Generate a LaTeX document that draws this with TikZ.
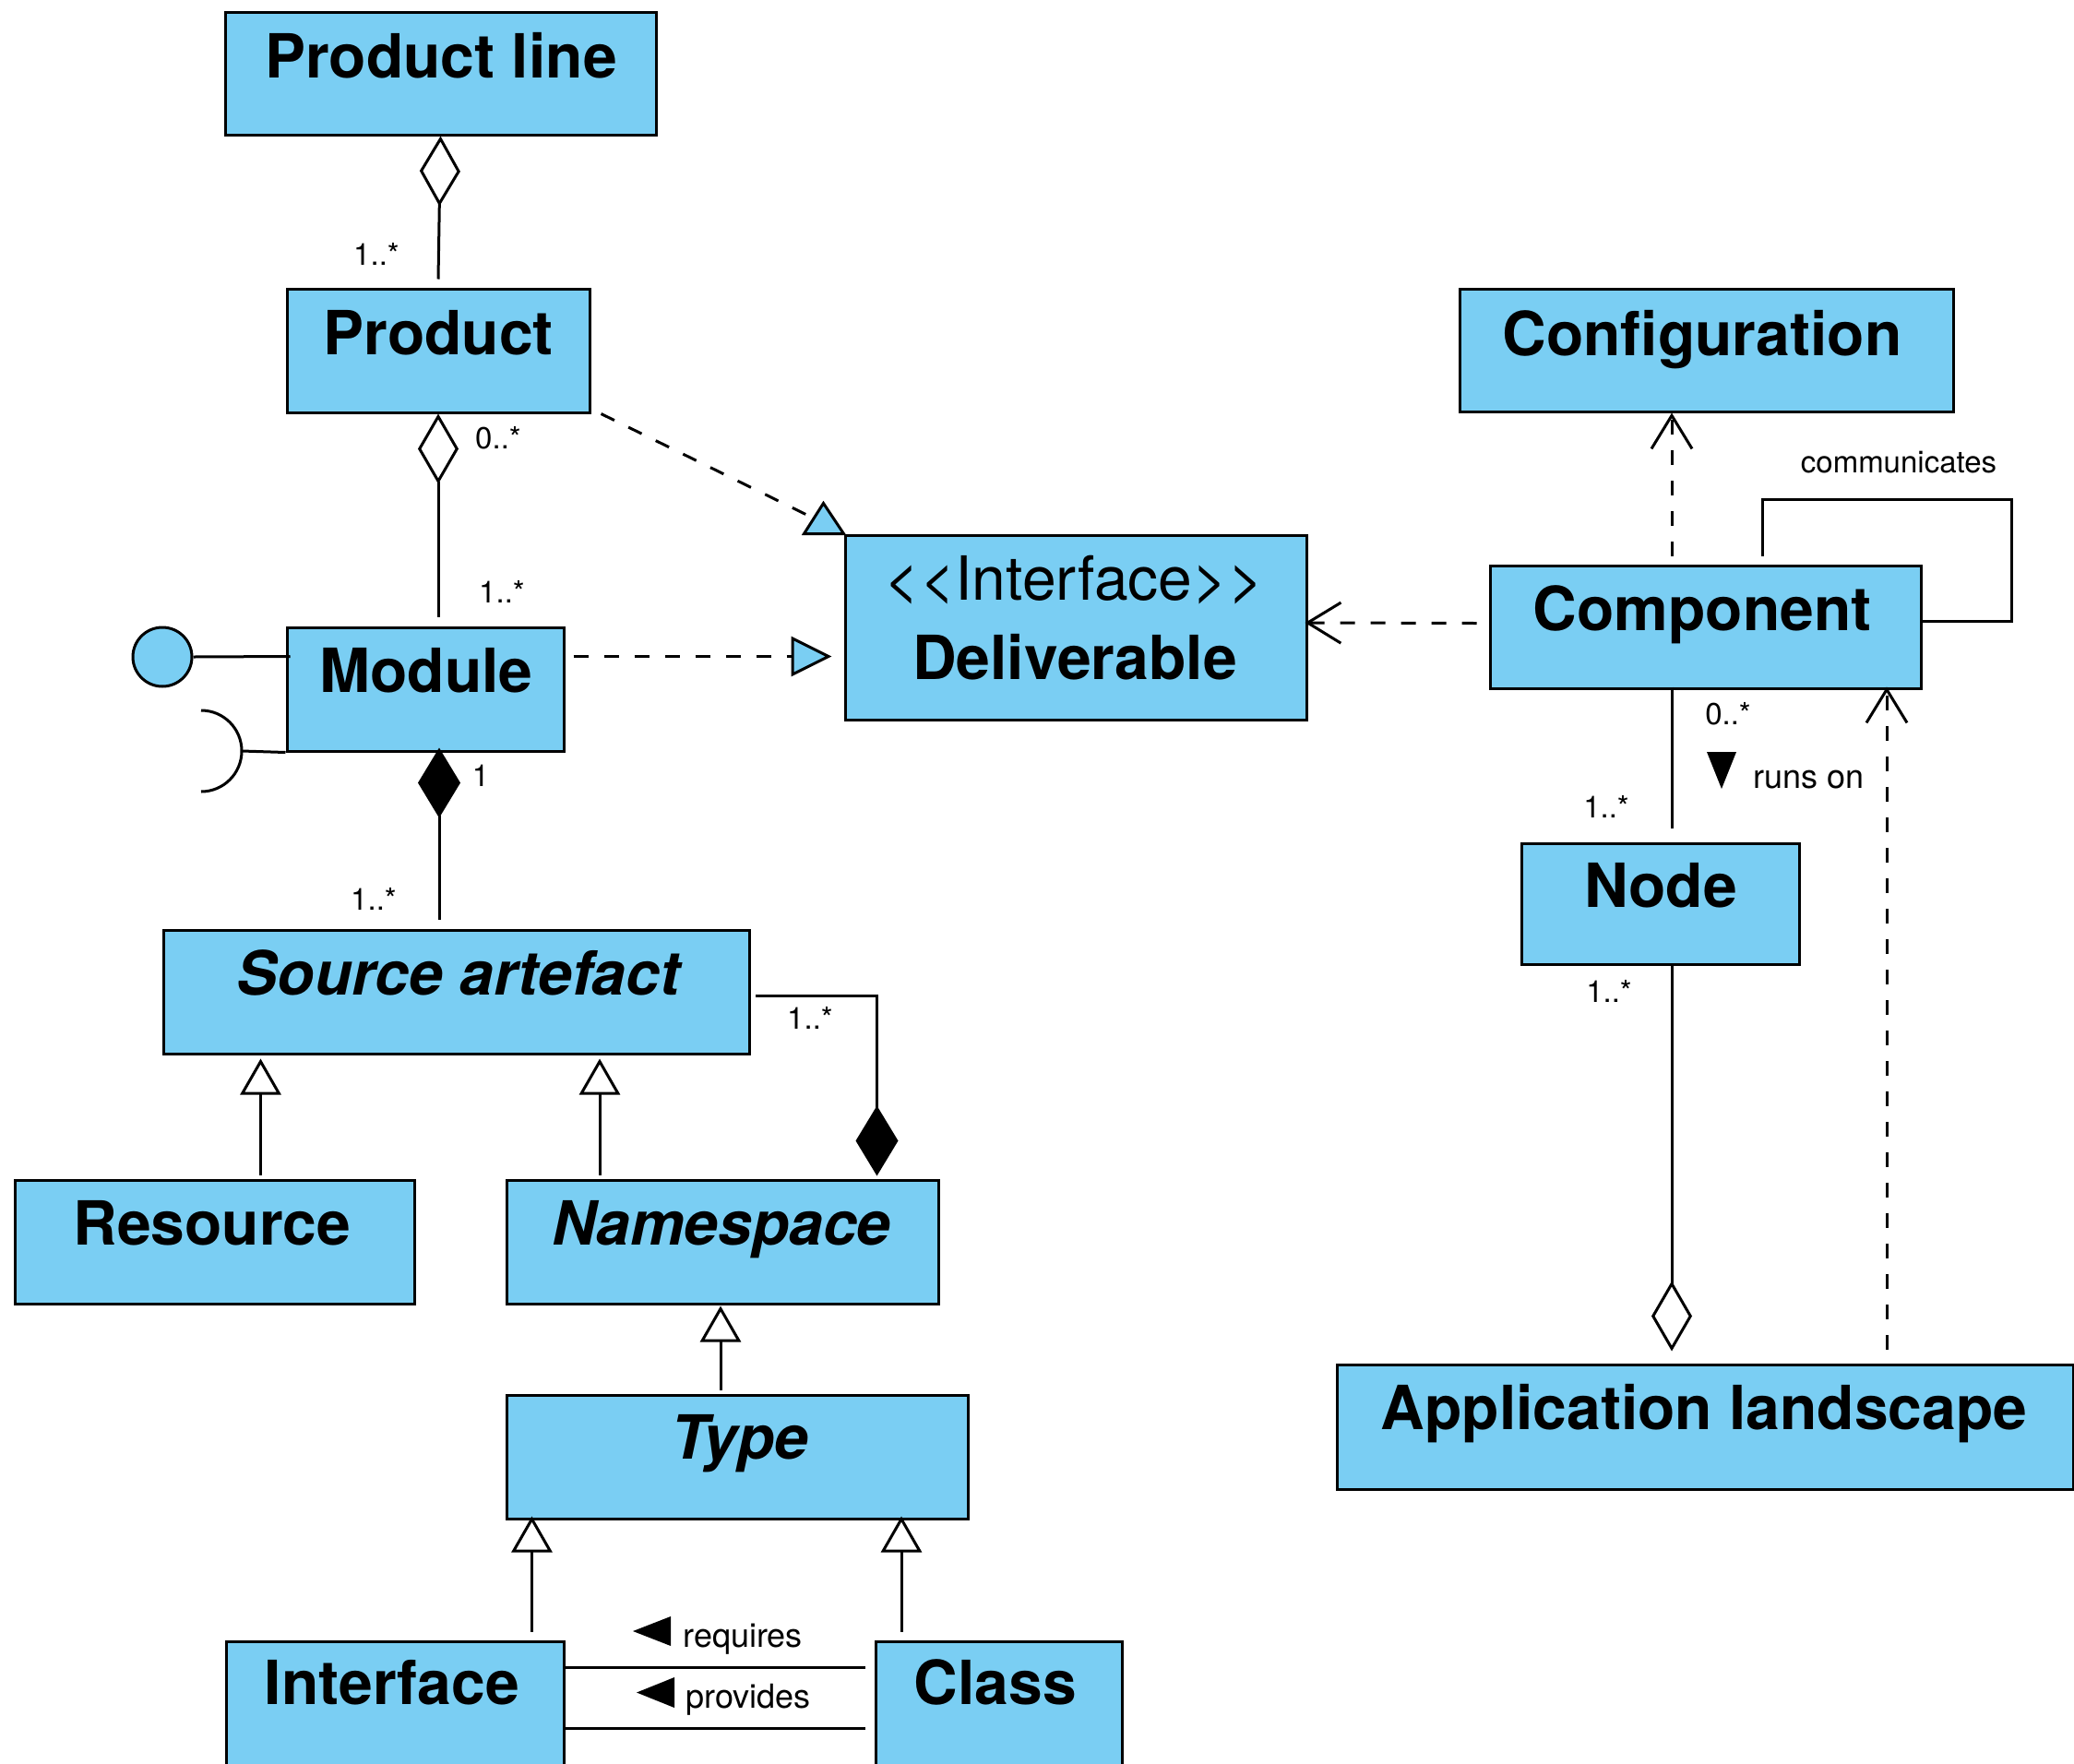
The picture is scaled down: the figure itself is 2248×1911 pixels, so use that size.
\documentclass[tikz,border=0pt]{standalone}
\usepackage{fontspec}
\setmainfont{TeX Gyre Heros}
\usetikzlibrary{arrows.meta,fit,calc}
\definecolor{ublue}{RGB}{122,206,243}
\begin{document}
\begin{tikzpicture}[x=0.5pt,y=-0.5pt,
  box/.style={draw,line width=1.5pt,fill=ublue,inner sep=0pt,rectangle},
  title/.style={font=\fontsize{33}{36}\selectfont\bfseries,anchor=base,inner sep=0pt},
  ititle/.style={font=\fontsize{33}{36}\selectfont\bfseries\itshape,anchor=base,inner sep=0pt},
  stereo/.style={font=\fontsize{33}{36}\selectfont,anchor=base,inner sep=0pt},
  mult/.style={font=\fontsize{16.5}{18}\selectfont,inner sep=0pt},
  lab/.style={font=\fontsize{18}{20}\selectfont,inner sep=0pt,anchor=base west},
  conn/.style={line width=1.5pt},
  dsh/.style={conn,dash pattern=on 8pt off 8.5pt},
  agg/.style={conn,{Diamond[open,fill=white,length=38pt,width=22pt]}-},
  compo/.style={conn,{Diamond[fill=black,length=38pt,width=23pt]}-},
  gen/.style={conn,-{Triangle[open,fill=white,length=19.5pt,width=22pt]}},
  dep/.style={dsh,-{Straight Barb[length=18pt,width=22pt]}},
  real/.style={dsh,-{Triangle[fill=ublue,length=22pt,width=21.5pt]}},
  tri/.style={fill=black,draw=none},
]
\useasboundingbox (0,0) rectangle (2248,1911);
\clip (0,0) rectangle (2248,1911);

% ---------- boxes ----------
\node[box,fit={(244,13)(711,146)}] (pl) {};
\node[box,fit={(311,313)(639,447)}] (prod) {};
\node[box,fit={(311,680)(611,814)}] (mod) {};
\node[box,fit={(177,1008)(812,1142)}] (sa) {};
\node[box,fit={(16,1279)(449,1413)}] (res) {};
\node[box,fit={(549,1279)(1017,1413)}] (ns) {};
\node[box,fit={(549,1512)(1049,1646)}] (type) {};
\node[box,fit={(245,1779)(611,1940)}] (intf) {};
\node[box,fit={(949,1779)(1216,1940)}] (cls) {};
\node[box,fit={(916,580)(1416,780)}] (deliv) {};
\node[box,fit={(1582,313)(2117,446)}] (conf) {};
\node[box,fit={(1615,613)(2082,746)}] (comp) {};
\node[box,fit={(1649,914)(1950,1045)}] (node) {};
\node[box,fit={(1449,1479)(2247,1614)}] (app) {};

% ---------- titles ----------
\node[title] (plT) at (478,84) {Product line};
\node[title] (prodT) at (475,384) {Product};
\node[title] (modT) at (462,750) {Module};
\node[ititle] (saT) at (497,1078) {Source artefact};
\node[title] (resT) at (230,1349) {Resource};
\node[ititle] (nsT) at (782,1349) {Namespace};
\node[ititle] (typeT) at (802,1581) {Type};
\node[title] (intfT) at (425,1847) {Interface};
\node[title] (clsT) at (1079,1847) {Class};
\node[stereo] (delivS) at (1164,650) {<{}<Interface>{}>};
\node[title] (delivT) at (1165,736) {Deliverable};
\node[title] (confT) at (1845,385) {Configuration};
\node[title] (compT) at (1845,683) {Component};
\node[title] (nodeT) at (1800,983) {Node};
\node[title] (appT) at (1847,1549) {Application landscape};

% ---------- associations / aggregations ----------
\draw[agg] (pl.south) -- ($(prod.north)+(0,-9)$);
\node[mult] (m1) at (408,275) {1..*};

\draw[agg] (prod.south) -- ($(prod.south |- mod.north)+(0,-10)$);
\node[mult] (m2) at (540,475) {0..*};
\node[mult] (m3) at (544,641) {1..*};

\draw[compo] ($(mod.south -| prod.south)+(1,-5)$) -- ($(sa.north -| prod.south)+(1,-10)$);
\node[mult] (m4) at (521,841) {1};
\node[mult] (m5) at (405,974) {1..*};

\draw[compo] ($(ns.north east)+(-68,-3)$) |- ($(sa.east)+(5,4)$);
\node[mult] (m6) at (878,1103) {1..*};

% lollipop and socket
\node[circle,draw,fill=ublue,line width=1.5pt,minimum size=32pt,inner sep=0pt] (lolli) at (176,712) {};
\draw[conn] (lolli.east) -- ($(mod.north west)+(5,33)$);
\coordinate (sock) at (218,814);
\draw[conn] ($(sock)+(0,-44)$) arc[start angle=90,end angle=-90,radius=22pt];
\draw[conn] ($(sock)+(44,0)$) -- (mod.south west);

% realizations
\draw[dsh] ($(prod.south east)+(11,0)$) -- ($(deliv.north west)+(-35,-18)$);
\draw[conn,fill=ublue,line join=miter] ($(deliv.north west)+(-43,0)$) -- (deliv.north west) -- ($(deliv.north west)+(-22,-33)$) -- cycle;
\draw[real] ($(mod.north east)+(9,33)$) -- ($(deliv.north west)+(-13,133)$);

% dependencies
\draw[dep] ($(comp.west)+(-13,-4)$) -- ($(deliv.east)+(-3,-5)$);
\draw[dep] ($(comp.north)+(-36.5,-9)$) -- ($(conf.south)+(-37.5,0)$);
\draw[dep] ($(app.north)+(197,-15)$) -- ($(comp.south)+(196.5,-3)$);

% communicates self loop
\draw[conn] ($(comp.north)+(62,-9)$) -- ++(0,-61) -| ($(comp.east)+(97,-6)$) -- ($(comp.east)+(-3,-6)$);
\node[mult,anchor=base] (commT) at (2058,512) {communicates};

% runs on
\draw[conn] ($(comp.south)+(-36.5,-3)$) -- ($(comp.south |- node.north)+(-36.5,-15)$);
\node[mult] (m7) at (1873,774) {0..*};
\node[mult] (m8) at (1741,874) {1..*};
\draw[tri] (1850,815) -- (1882,815) -- (1866,855) -- cycle;
\node[lab] (runsT) at (1900,854) {runs on};

% node - application landscape
\draw[agg] ($(app.north -| comp.south)+(-36.5,-13)$) -- ($(node.south -| comp.south)+(-36.5,-3)$);
\node[mult] (m9) at (1744,1074) {1..*};

% generalizations
\draw[gen] ($(res.north)+(50,-4)$) -- ($(sa.south -| res.north)+(50,4)$);
\draw[gen] ($(ns.north)+(-133,-4)$) -- ($(sa.south -| ns.north)+(-133,4)$);
\draw[gen] ($(type.north)+(-18,-4)$) -- ($(ns.south -| type.north)+(-18,1)$);
\draw[gen] ($(intf.north)+(148.5,-9)$) -- ($(type.south -| intf.north)+(148.5,-4)$);
\draw[gen] ($(cls.north)+(-105.5,-9)$) -- ($(type.south -| cls.north)+(-105.5,-4)$);

% requires / provides
\draw[conn] ($(intf.north east)+(0,30)$) -- ($(cls.north west)+(-10,30)$);
\draw[tri] (727,1752) -- (727,1784) -- (686,1768) -- cycle;
\node[lab] (reqT) at (740,1785) {requires};
\draw[conn] ($(intf.north east)+(0,96)$) -- ($(cls.north west)+(-10,96)$);
\draw[tri] (731,1818) -- (731,1851) -- (690,1834.5) -- cycle;
\node[lab] (provT) at (743,1851) {provides};
\end{tikzpicture}
\end{document}
